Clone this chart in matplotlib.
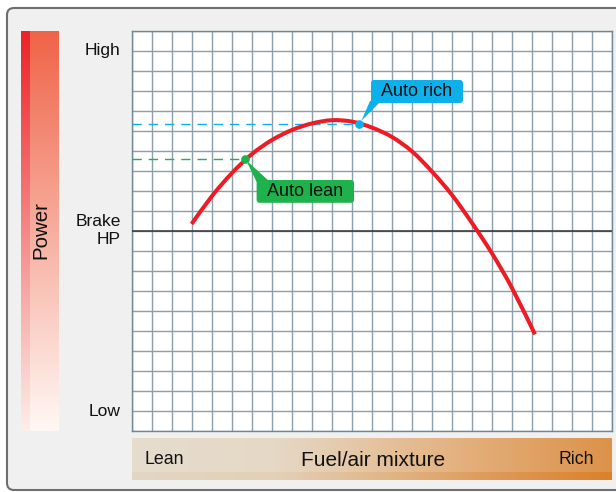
import numpy as np
import matplotlib.pyplot as plt
from matplotlib.patches import FancyBboxPatch, Polygon, PathPatch
from matplotlib.path import Path
from matplotlib.colors import to_rgb

plt.rcParams['font.family'] = ['Liberation Sans', 'DejaVu Sans']

# Power curve, read along the grid (x: mixture column, y: power row)
mixture = [2.98, 4, 5, 6, 7, 8, 9, 10, 11, 12, 13, 14, 15, 16, 17, 18, 19, 20.15]
power = [10.35, 11.75, 12.9, 13.85, 14.55, 15.05, 15.38, 15.54, 15.47, 15.17,
         14.7, 13.98, 12.97, 11.8, 10.4, 8.88, 7.15, 4.83]

brake_hp = 10
auto_lean = (5.65, 13.6)
auto_rich = (11.35, 15.36)

power_ticks = [19, 10, 1]
power_labels = ['High', 'Brake\nHP', 'Low']

red = '#ed1c24'
blue = '#0db0ea'
green = '#1fb14b'
grid_col = '#8a9eab'

W, H = 616, 492
fig = plt.figure(figsize=(W / 100, H / 100), dpi=100)
fig.patch.set_facecolor('white')

# background layer in pixel coordinates
bg = fig.add_axes([0, 0, 1, 1])
bg.set_xlim(0, W)
bg.set_ylim(H, 0)
bg.axis('off')

bg.add_patch(FancyBboxPatch((7, 8), 640, 482, boxstyle='round,pad=0,rounding_size=7',
                            facecolor='#f0f0f0', edgecolor='#6e6e6e', lw=1.5))


def vgrad(top, bottom, n=200):
    a, b = np.array(to_rgb(top)), np.array(to_rgb(bottom))
    t = np.linspace(0, 1, n)[:, None]
    return (a + (b - a) * t)[:, None, :]


def hgrad(stops, n=300):
    xs = np.linspace(0, 1, n)
    pos = [s[0] for s in stops]
    cols = np.array([to_rgb(s[1]) for s in stops])
    rgb = np.stack([np.interp(xs, pos, cols[:, k]) for k in range(3)], axis=1)
    return rgb[None, :, :]


def smooth_path(xs, ys):
    # Catmull-Rom through the points, written as cubic Bezier segments
    p = np.column_stack([xs, ys])
    ext = np.vstack([p[0], p, p[-1]])
    verts = [p[0]]
    codes = [Path.MOVETO]
    for i in range(1, len(ext) - 2):
        c1 = ext[i] + (ext[i + 1] - ext[i - 1]) / 6
        c2 = ext[i + 1] - (ext[i + 2] - ext[i]) / 6
        verts += [c1, c2, ext[i + 1]]
        codes += [Path.CURVE4] * 3
    return Path(verts, codes)


# "Power" bar on the left
bg.imshow(vgrad('#ef6448', '#fff8f5'), extent=(30, 59, 431, 31), aspect='auto', zorder=2)
bg.imshow(vgrad('#ed2226', '#fdeee8'), extent=(21, 30, 431, 31), aspect='auto', zorder=2)
bg.text(41, 230, 'Power', rotation=90, ha='center', va='center', fontsize=14.8, color='#111111', zorder=3)

# fuel/air mixture bar along the bottom
bg.imshow(hgrad([(0, '#e6ddce'), (0.3, '#e5d8c5'), (0.5, '#e5c4a0'), (0.75, '#e2aa72'), (1, '#dc924a')]),
          extent=(132, 612, 472, 438), aspect='auto', zorder=2)
bg.imshow(hgrad([(0, '#e2d6c3'), (0.3, '#e2d0b8'), (0.5, '#e2b98c'), (0.75, '#de9a58'), (1, '#d9822a')]),
          extent=(132, 612, 480, 472), aspect='auto', zorder=2)
bg.text(145, 460, 'Lean', ha='left', va='center', fontsize=12.8, color='#111111', zorder=3)
bg.text(373, 460, 'Fuel/air mixture', ha='center', va='center', fontsize=15, color='#111111', zorder=3)
bg.text(594, 460, 'Rich', ha='right', va='center', fontsize=12.8, color='#111111', zorder=3)

# chart grid
ax = fig.add_axes([132 / W, 61 / H, 480 / W, 400 / H])
ax.set_facecolor('white')
ax.set_xlim(0, 24)
ax.set_ylim(0, 20)
ax.set_xticks(range(0, 25))
ax.set_yticks(range(0, 21))
ax.tick_params(length=0, labelbottom=False, labelleft=False)
ax.grid(True, color=grid_col, lw=1.0)
for s in ax.spines.values():
    s.set_color('#6f8796')
    s.set_linewidth(1.0)

for y, lab in zip(power_ticks, power_labels):
    ax.text(-0.57, y, lab, ha='right', va='center', fontsize=12.5, color='#111111',
            multialignment='right', linespacing=1.25, clip_on=False)

ax.axhline(brake_hp, color='#333333', lw=1.1, zorder=3)

# dashed reference lines to the auto lean / auto rich settings
ax.plot([0, auto_rich[0]], [auto_rich[1]] * 2, color=blue, lw=1.0, dashes=(6.7, 5.0), zorder=3)
ax.plot([0, auto_lean[0]], [auto_lean[1]] * 2, color=green, lw=1.0, dashes=(6.7, 5.0), zorder=3)

ax.add_patch(PathPatch(smooth_path(mixture, power), facecolor='none', edgecolor=red,
                       lw=2.9, capstyle='butt', zorder=4))

ax.plot(*auto_rich, 'o', color=blue, ms=6.2, mec='none', zorder=5)
ax.plot(*auto_lean, 'o', color=green, ms=6.2, mec='none', zorder=5)

# callout boxes
ax.add_patch(Polygon([(11.9, 16.5), (auto_rich[0] + 0.12, auto_rich[1] + 0.15), (12.45, 16.5)],
                     closed=True, facecolor=blue, edgecolor='none', zorder=5))
ax.add_patch(FancyBboxPatch((11.95, 16.4), 4.6, 1.15, boxstyle='round,pad=0,rounding_size=0.15',
                            facecolor=blue, edgecolor='none', zorder=5, mutation_aspect=1))
ax.text(14.25, 16.97, 'Auto rich', ha='center', va='center', fontsize=13, color='#111111', zorder=6)

ax.add_patch(Polygon([(auto_lean[0] + 0.05, auto_lean[1] - 0.05), (6.23, 12.45), (6.9, 12.45)],
                     closed=True, facecolor=green, edgecolor='none', zorder=5))
ax.add_patch(FancyBboxPatch((6.23, 11.41), 4.87, 1.14, boxstyle='round,pad=0,rounding_size=0.15',
                            facecolor=green, edgecolor='none', zorder=5, mutation_aspect=1))
ax.text(8.67, 11.98, 'Auto lean', ha='center', va='center', fontsize=13, color='#111111', zorder=6)

fig.savefig('out.png', dpi=100)
